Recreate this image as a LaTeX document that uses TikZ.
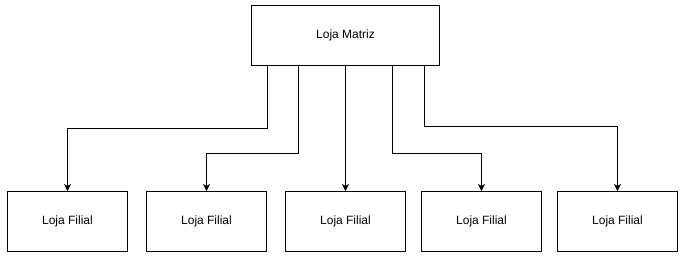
\documentclass[tikz,border=0pt]{standalone}
\usepackage{fontspec}
\setmainfont{Liberation Sans}
\usetikzlibrary{positioning, arrows.meta}

\begin{document}
\begin{tikzpicture}[
    node distance=19pt,
    loja/.style={rectangle, draw, line width=1pt, outer sep=0pt, minimum width=120pt, minimum height=60pt, align=center, font=\fontsize{12}{14}\selectfont},
    matriz/.style={loja, minimum width=188pt},
    line/.style={draw, line width=1pt, -{Stealth[length=7pt, width=7pt, inset=2pt]}}
  ]
  \useasboundingbox (0,0) rectangle (683pt,-274pt);

  \node[matriz] (sede) at (345.5pt,-35.5pt) {Loja Matriz};
  \node[loja] (fil1) at (67.5pt,-221pt) {Loja Filial};
  \node[loja, right=of fil1] (fil2) {Loja Filial};
  \node[loja, right=of fil2] (fil3) {Loja Filial};
  \node[loja, right=16pt of fil3] (fil4) {Loja Filial};
  \node[loja, right=16pt of fil4] (fil5) {Loja Filial};

  \draw[line] ([xshift=-78pt]sede.south) -- ++(0,-62.5pt) -| (fil1.north);
  \draw[line] ([xshift=-47pt]sede.south) -- ++(0,-88pt) -| (fil2.north);
  \draw[line] (sede.south) -- (fil3.north);
  \draw[line] ([xshift=47pt]sede.south) -- ++(0,-88pt) -| (fil4.north);
  \draw[line] ([xshift=79pt]sede.south) -- ++(0,-61pt) -| (fil5.north);

\end{tikzpicture}
\end{document}
